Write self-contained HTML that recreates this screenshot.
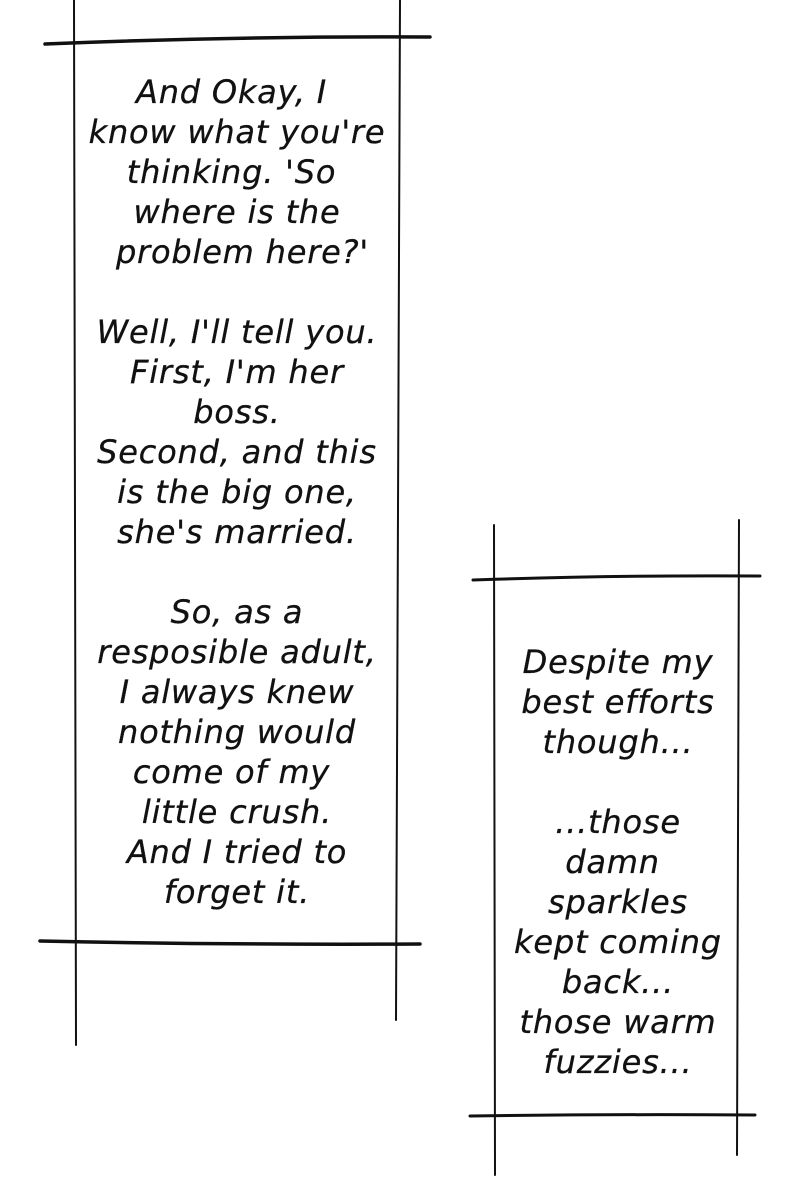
<!DOCTYPE html>
<html><head><meta charset="utf-8"><style>
html,body{margin:0;padding:0;background:#fff;width:800px;height:1200px;overflow:hidden;position:relative}
svg{position:absolute;left:0;top:0}
.t{position:absolute;font-family:"DejaVu Sans","Liberation Sans",sans-serif;font-style:italic;font-size:32px;line-height:40px;text-align:center;color:#111;white-space:pre;letter-spacing:0.8px;-webkit-text-stroke:0.3px #111}
</style></head><body>
<svg width="800" height="1200" viewBox="0 0 800 1200">
<g stroke="#111" fill="none" stroke-linecap="round">
<line x1="74" y1="0" x2="76" y2="1045" stroke-width="2"/>
<line x1="400" y1="0" x2="396" y2="1020" stroke-width="2"/>
<path d="M45 44 Q240 36 430 37" stroke-width="3.5"/>
<path d="M40 941 Q230 945 420 944" stroke-width="3.5"/>
<line x1="494" y1="525" x2="495" y2="1175" stroke-width="2"/>
<line x1="739" y1="520" x2="737" y2="1155" stroke-width="2"/>
<path d="M473 580 Q620 575 760 576" stroke-width="3"/>
<path d="M470 1116 Q610 1114 755 1115" stroke-width="3"/>
</g>
</svg>
<div class="t" style="left:37px;width:400px;top:72px">And Okay, I 
know what you're
thinking. 'So 
where is the
 problem here?'

Well, I'll tell you.
First, I'm her
boss.
Second, and this
is the big one,
she's married.

So, as a
resposible adult,
I always knew
nothing would
come of my 
little crush.
And I tried to
forget it.</div>
<div class="t" style="left:468px;width:300px;top:642px">Despite my
best efforts
though...

...those
damn 
sparkles
kept coming
back...
those warm
fuzzies...</div>
</body></html>
